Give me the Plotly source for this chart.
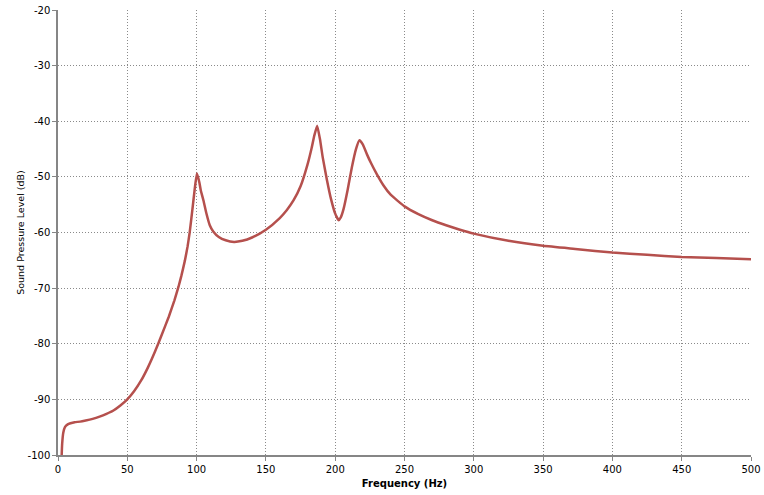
import plotly.graph_objects as go

freq_hz = [2.5, 3, 3.8, 5, 7, 9, 12, 16, 20, 25, 30, 35, 40, 45, 50, 55, 60, 65, 70, 75,
           80, 84, 87, 89, 91.5, 93.5, 95, 97, 98.5, 100.2, 102, 103, 105, 107, 109.5,
           112, 116, 121, 127, 133, 140, 150, 160, 165, 170, 175, 180, 183, 185, 187,
           189, 191, 194, 197, 200, 202.5, 204, 206, 209, 212, 215, 217.5, 220, 223,
           226, 230, 235, 240, 250, 260, 270, 280, 290, 300, 325, 350, 375, 400, 425,
           450, 475, 500]
spl_db = [-101, -98, -96, -95, -94.5, -94.3, -94.1, -94.0, -93.8, -93.5, -93.1, -92.6,
          -92.0, -91.1, -90.0, -88.5, -86.6, -84.2, -81.4, -78.3, -75.1, -72.2, -69.7,
          -67.8, -65.1, -62.5, -60.0, -55.8, -52.5, -49.4, -51.0, -52.4, -54.3, -56.5,
          -58.7, -59.8, -60.8, -61.4, -61.7, -61.5, -60.9, -59.5, -57.4, -56.0, -54.2,
          -51.7, -47.8, -44.8, -42.5, -40.8, -43.2, -46.5, -50.5, -54.0, -56.6, -57.8,
          -57.3, -55.8, -52.3, -48.3, -45.0, -43.4, -44.2, -46.0, -47.6, -49.5, -51.6,
          -53.2, -55.3, -56.7, -57.8, -58.7, -59.5, -60.2, -61.5, -62.4, -63.0, -63.6,
          -64.0, -64.4, -64.6, -64.8]

x_ticks = list(range(0, 501, 50))
y_ticks = list(range(-100, -19, 10))

fig = go.Figure()
fig.add_trace(go.Scatter(x=freq_hz, y=spl_db, mode="lines",
                         line=dict(color="#B5504D", width=2.5, shape="spline", smoothing=0.4),
                         showlegend=False))

font = dict(family="DejaVu Sans, sans-serif", size=10, color="#000000")

fig.update_layout(
    width=764, height=495,
    margin=dict(l=58, r=13, t=10, b=40),
    paper_bgcolor="white", plot_bgcolor="white",
    font=font,
)
fig.update_xaxes(
    range=[0, 500], tickvals=x_ticks, ticktext=[str(v) for v in x_ticks],
    showgrid=True, gridcolor="#8a8a8a", griddash="1px,2px", gridwidth=1,
    showline=True, linecolor="#868686", linewidth=1.5,
    ticks="outside", ticklen=4, tickcolor="#868686",
    zeroline=False, automargin=False,
    title=dict(text="<b>Frequency (Hz)</b>", font=dict(size=10), standoff=6),
)
fig.update_yaxes(
    range=[-100, -20], tickvals=y_ticks, ticktext=[str(v) for v in y_ticks],
    showgrid=True, gridcolor="#8a8a8a", griddash="1px,2px", gridwidth=1,
    showline=True, linecolor="#868686", linewidth=1.5,
    ticks="outside", ticklen=4, tickcolor="#868686",
    zeroline=False, automargin=False,
    title=dict(text="Sound Pressure Level (dB)", font=dict(size=9.5), standoff=1),
)

fig.write_html("out.html", config={"displayModeBar": False},
               post_script="document.body.style.margin='0';")
